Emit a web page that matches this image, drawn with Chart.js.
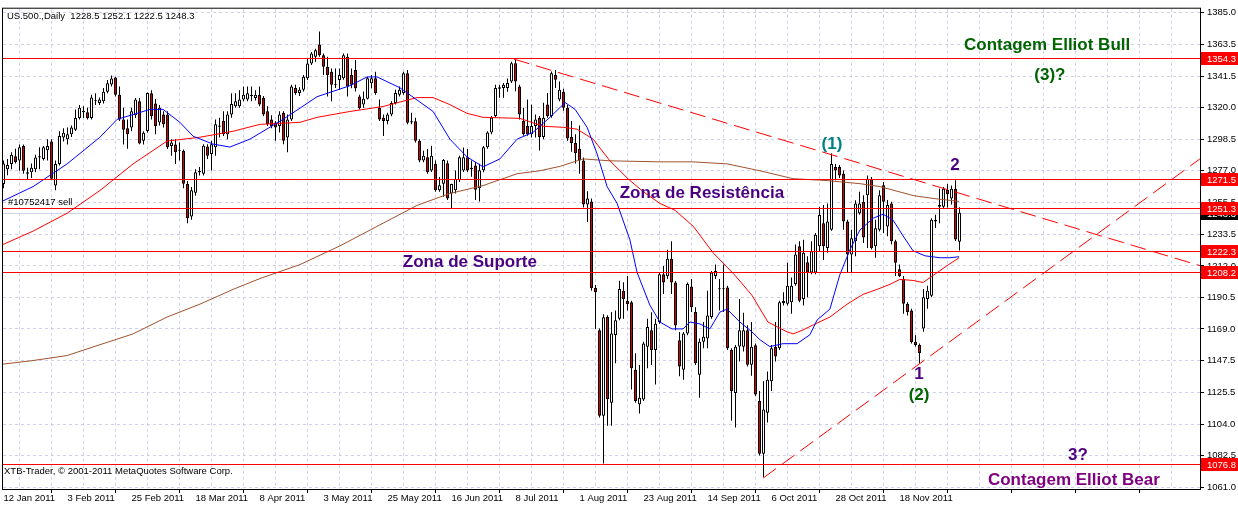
<!DOCTYPE html>
<html>
<head>
<meta charset="utf-8">
<script src="https://cdn.jsdelivr.net/npm/chart.js@4.4.1/dist/chart.umd.min.js"></script>
<style>
  html, body { margin: 0; padding: 0; background: #fff; }
  #grafico { display: block; }
</style>
</head>
<body>
<canvas id="grafico" width="1238" height="507"></canvas>
<script>
// US.500 diario, 12 Jan 2011 .. 9 Dec 2011
let simbolo = "US.500.,Daily";

let datas = ["12 Jan 2011", "3 Feb 2011", "25 Feb 2011", "18 Mar 2011", "8 Apr 2011", "3 May 2011",
    "25 May 2011", "16 Jun 2011", "8 Jul 2011", "1 Aug 2011", "23 Aug 2011", "14 Sep 2011",
    "6 Oct 2011", "28 Oct 2011", "18 Nov 2011"];

let precos = [1385.0, 1363.5, 1341.5, 1320.0, 1298.5, 1277.0, 1255.5, 1233.5, 1212.0, 1190.5,
    1169.0, 1147.5, 1125.5, 1104.0, 1082.5, 1061.0];

let abertura = [
    1268, 1278, 1281.7, 1287, 1284, 1294, 1276, 1276, 1278, 1286,
    1285, 1291, 1297, 1267, 1281.7, 1299.7, 1298.6, 1302, 1305, 1313,
    1317, 1317, 1313, 1325, 1323.3, 1324.5, 1331, 1336, 1340.7, 1329,
    1312, 1306, 1306.5, 1315, 1324.5, 1297.5, 1304.2, 1330, 1323, 1310,
    1315.5, 1315.5, 1294, 1295, 1290.7, 1290.7, 1268, 1245.7, 1262, 1277,
    1275, 1293.5, 1288.5, 1293, 1307, 1311, 1302, 1315.5, 1321, 1321,
    1325.6, 1325.6, 1328.5, 1326.7, 1329, 1326.7, 1317.7, 1312, 1310, 1307.6,
    1316.6, 1299.7, 1312.1, 1333.5, 1330.1, 1332.3, 1340.2, 1350.3, 1354.8, 1363.2,
    1355.9, 1348.1, 1344.7, 1336, 1339, 1340.2, 1354.8, 1342.5, 1345.8, 1327.8,
    1322.2, 1326.2, 1336.8, 1340.2, 1320, 1313.2, 1311, 1315.5, 1323.3, 1329,
    1330.1, 1343.6, 1310.9, 1310.9, 1297.5, 1284, 1286.2, 1277.2, 1281.7, 1263.7,
    1268.2, 1282.2, 1261.4, 1263.7, 1270.5, 1277.2, 1286.2, 1279, 1280.6, 1265,
    1277.3, 1293, 1303.1, 1314.4, 1333, 1333.5, 1333.5, 1338, 1350.4, 1334.6,
    1311, 1307.6, 1302, 1307.6, 1313.3, 1300, 1322.3, 1314.4, 1342.5, 1325.6,
    1331, 1320, 1300, 1296, 1292, 1284, 1254, 1256, 1197, 1168.1,
    1109.6, 1177.1, 1118.6, 1164.8, 1176, 1195.1, 1188.3, 1187.2, 1141.1, 1117.5,
    1120.8, 1156.8, 1168.1, 1154.6, 1173.7, 1206.3, 1205, 1216.9, 1200.7, 1161.3,
    1141.1, 1165.8, 1198, 1180.5, 1137.7, 1160.2, 1162.5, 1177.1, 1205.2, 1196.3,
    1196.5, 1197.3, 1154.6, 1125.3, 1157, 1156.8, 1168.1, 1144.5, 1157.9, 1119.7,
    1083.7, 1111.8, 1133.2, 1156.8, 1155.7, 1188, 1186.1, 1187.2, 1199.6, 1225.5,
    1189.5, 1214.6, 1207.5, 1207.5, 1225.5, 1241.2, 1224.3, 1236.7, 1279.5, 1279.5,
    1275, 1242.3, 1219.8, 1228.8, 1248, 1255.8, 1260.3, 1271.6, 1225.5, 1236.7,
    1267.1, 1238.9, 1254.7, 1228.8, 1209.7, 1203, 1186.1, 1181.6, 1160.2, 1158,
    1169.2, 1189.5, 1191.7, 1243.5, 1252.5, 1252.5, 1264, 1258, 1264.8, 1228.5
];

let maxima = [
    1284, 1285, 1289.6, 1292, 1295, 1295, 1279, 1282, 1288, 1293,
    1294, 1298.6, 1298.6, 1284, 1304, 1306, 1306.5, 1308, 1318.8, 1322,
    1321, 1320, 1329, 1330, 1327, 1333.5, 1339, 1342, 1341.3, 1334.6,
    1320, 1312, 1320, 1326.7, 1326.7, 1304, 1330.5, 1332, 1326, 1322,
    1317.7, 1317.7, 1298.6, 1298.6, 1296.3, 1291.5, 1270, 1266, 1278, 1279.5,
    1295.2, 1295.2, 1297.5, 1312, 1313.2, 1317.7, 1317.7, 1330, 1330, 1332,
    1334.6, 1334.6, 1334.6, 1332, 1334.6, 1328, 1321, 1315, 1311, 1317.7,
    1317.7, 1315.5, 1335.7, 1335.7, 1334, 1342.5, 1353.7, 1358.2, 1360.4, 1372.1,
    1357.1, 1354.8, 1346.9, 1346.9, 1346.9, 1357.1, 1357.1, 1346.9, 1352.6, 1328.9,
    1331.2, 1341.3, 1342.5, 1344.7, 1325.6, 1315.5, 1316.6, 1324.5, 1332.3, 1334.6,
    1344.7, 1345.8, 1316.6, 1313.2, 1298.6, 1290.7, 1291.8, 1294.1, 1284, 1272.7,
    1285.1, 1284, 1268.2, 1277.2, 1287.3, 1292.9, 1291.8, 1284, 1283, 1281.8,
    1294, 1304, 1314.4, 1335.8, 1335.8, 1337, 1340, 1351.5, 1353.8, 1335.8,
    1320, 1325.6, 1322.3, 1315.5, 1314.4, 1323.4, 1330.1, 1344.8, 1345.9, 1338,
    1333, 1322, 1311, 1302, 1308, 1286, 1263, 1258, 1199, 1169.3,
    1179, 1178.3, 1180.5, 1181.6, 1201.9, 1200.8, 1205.2, 1188.3, 1152.3, 1144.4,
    1160.2, 1175.9, 1180.4, 1175.9, 1207.5, 1211.9, 1223, 1228.8, 1201.8, 1166.9,
    1166.9, 1200.7, 1203, 1183.8, 1162.5, 1173.7, 1195, 1208.6, 1213, 1203,
    1213, 1198.5, 1155.7, 1158, 1189.5, 1180, 1171.5, 1173.7, 1159, 1126.5,
    1133.2, 1139.9, 1158, 1173.7, 1188.3, 1194, 1214.2, 1204.1, 1226.6, 1228.8,
    1229.9, 1218.7, 1228.8, 1234.5, 1252.5, 1253.6, 1254.7, 1288.9, 1281.7, 1281,
    1277.2, 1243.5, 1236.7, 1256.9, 1262.6, 1260.3, 1273.8, 1272.7, 1243.5, 1263.7,
    1269.3, 1257, 1255.8, 1229.9, 1213, 1205.2, 1187.2, 1182.7, 1164.7, 1159.1,
    1196.2, 1198.5, 1244.6, 1247, 1264.8, 1266, 1268, 1267, 1270.5, 1252.1
];

let minima = [
    1265, 1274, 1278, 1282, 1277, 1275, 1271, 1272, 1276, 1278,
    1284, 1284, 1270.5, 1263.7, 1280.6, 1297, 1295, 1300, 1304.2, 1312,
    1313, 1312, 1312, 1322, 1322, 1323, 1330, 1334.6, 1327.8, 1311,
    1295, 1292, 1304, 1313, 1295.2, 1295, 1303, 1312, 1302, 1308,
    1306.5, 1291.8, 1287.3, 1281.7, 1284, 1265, 1241.2, 1243.5, 1260, 1273.8,
    1273.8, 1285, 1277.2, 1287.3, 1299.7, 1300.8, 1298.6, 1313.2, 1320, 1320,
    1324.5, 1324.5, 1324.5, 1325, 1321, 1314.3, 1307.6, 1306, 1297.5, 1303.1,
    1295.2, 1289.6, 1311, 1329, 1328, 1331.2, 1339, 1349.2, 1351.5, 1354.8,
    1342.5, 1327.8, 1324.5, 1333.5, 1332.3, 1339.1, 1327.8, 1333.4, 1331.2, 1318.8,
    1320, 1325.6, 1333.4, 1329, 1311, 1300.8, 1308.7, 1314.3, 1322.2, 1327.8,
    1329, 1308.7, 1308.7, 1296.3, 1282.8, 1282.8, 1275, 1276.1, 1262.6, 1262.6,
    1259.2, 1257, 1251.3, 1261.4, 1269.3, 1276.1, 1276.1, 1273, 1257, 1256,
    1276, 1292, 1302, 1313.3, 1326.8, 1326.8, 1331, 1337, 1331.3, 1312.1,
    1300.9, 1300.9, 1299.8, 1299.8, 1290.8, 1298.6, 1313.3, 1313.3, 1333.5, 1324.5,
    1318, 1297.5, 1290, 1282, 1275, 1252, 1242, 1195, 1169, 1108.5,
    1077, 1102.9, 1102.9, 1145.6, 1174.9, 1176, 1181.6, 1127.6, 1118.6, 1111.2,
    1119.7, 1142.2, 1144.4, 1131, 1172.6, 1192.8, 1203, 1192.8, 1168.1, 1136.6,
    1134.3, 1164.7, 1180.5, 1144.4, 1121.9, 1155.7, 1155.7, 1175.9, 1203, 1181.6,
    1180.5, 1154.6, 1106.2, 1101.7, 1146.7, 1153.5, 1143.3, 1137, 1123, 1082.6,
    1067.9, 1105.1, 1126.5, 1146.7, 1154.6, 1185, 1184.9, 1179.3, 1198.5, 1187.2,
    1184.9, 1190.6, 1206.3, 1206.3, 1222, 1216, 1221, 1236, 1270.5, 1272,
    1236.7, 1207.5, 1207.5, 1218.7, 1246.9, 1227.7, 1224.3, 1223.2, 1217.6, 1235.6,
    1234.5, 1232.2, 1226.6, 1205.2, 1204.5, 1179.3, 1178.2, 1159.1, 1156.8, 1145.6,
    1167, 1182.7, 1190.6, 1238, 1241.2, 1251.3, 1252, 1254, 1229, 1222.5
];

let fechamento = [
    1282, 1281, 1288, 1283, 1293, 1277, 1275, 1279, 1286, 1287,
    1293, 1294, 1271.6, 1281.7, 1300.8, 1303, 1302, 1306.5, 1313, 1320,
    1318, 1313, 1327, 1324.5, 1325.6, 1331, 1336.8, 1340, 1329, 1312,
    1305, 1302, 1317.7, 1325.6, 1295.6, 1303, 1330.1, 1314.3, 1307.6, 1320,
    1308.7, 1293, 1296.3, 1289.6, 1291, 1268.2, 1244.6, 1263.7, 1276, 1276,
    1294.1, 1287.3, 1295.2, 1308.7, 1308, 1302, 1315.5, 1322.6, 1324.5, 1325.6,
    1329, 1330, 1328, 1329, 1322.2, 1315.5, 1308.7, 1307.6, 1306.5, 1315.5,
    1297.5, 1312.1, 1334.6, 1330.1, 1332.3, 1341.3, 1350.3, 1357.1, 1359.3, 1355.9,
    1348.1, 1342.5, 1335.7, 1335.5, 1342.5, 1355.9, 1334.6, 1335.7, 1333.4, 1319.9,
    1326.2, 1340.2, 1340.2, 1330.1, 1312.1, 1311, 1315.5, 1323.3, 1330.1, 1332.3,
    1343.6, 1309.8, 1310, 1297.5, 1284, 1287.3, 1276.1, 1287.3, 1263.7, 1267.1,
    1284.4, 1258.1, 1268, 1271.6, 1286.2, 1286.2, 1277.2, 1278, 1264, 1277.3,
    1293, 1303.1, 1313.3, 1333.5, 1334, 1335.8, 1337, 1350.4, 1338, 1315.5,
    1302, 1302, 1307.6, 1312.1, 1300, 1313.3, 1314.4, 1343.6, 1339.1, 1332.4,
    1320, 1299, 1296, 1289, 1284, 1254, 1258, 1197, 1194, 1109.6,
    1177, 1120.9, 1165.9, 1174.9, 1196.3, 1189.5, 1186, 1142.2, 1119.7, 1121.9,
    1159.1, 1170.3, 1154.6, 1172.6, 1206.3, 1200.7, 1216.9, 1200.7, 1171.4, 1143.3,
    1165.8, 1199.6, 1183.8, 1145.6, 1160.2, 1163.6, 1178.2, 1207.5, 1208.6, 1196,
    1196, 1155.7, 1126.5, 1156.8, 1168.1, 1168.1, 1144.5, 1156.8, 1124.2, 1083.7,
    1114, 1134.3, 1155.7, 1150.1, 1187.2, 1186.5, 1198.5, 1198.5, 1219.8, 1188.3,
    1221, 1207.5, 1222.1, 1233.3, 1246.8, 1225.5, 1242.3, 1281.7, 1277.2, 1273.8,
    1242.3, 1219.8, 1231, 1254.7, 1254.7, 1231.5, 1271.6, 1224.3, 1237.8, 1260.3,
    1255.8, 1253.6, 1228.8, 1214.2, 1205.2, 1186.1, 1180.5, 1160, 1158, 1152.3,
    1190.6, 1195.1, 1243.5, 1242.3, 1253.6, 1264.8, 1261, 1264.8, 1230, 1248.3
];

// medias moveis: [barra, valor]
let mediaAzul = [[-0.9, 1255.4], [7.4, 1266.2], [15.9, 1281.7], [24.1, 1299.9], [28.4, 1312.1], [36.6, 1318.9],
    [39.9, 1318.9], [44.1, 1310.1], [47.4, 1300.6], [52.4, 1295.2], [56.6, 1293.2], [61.6, 1298.6], [69.9, 1312.1],
    [78.4, 1327.6], [86.6, 1335.1], [90.9, 1341.1], [93.4, 1341.1], [99.1, 1333.7], [107.4, 1317.5], [111.6, 1298.6],
    [115.9, 1286.4], [119.9, 1279.7], [124.1, 1285.1], [128.4, 1298.6], [132.4, 1303.3], [136.6, 1313.5],
    [140.4, 1323.6], [142.9, 1318.9], [145.9, 1306.7], [148.4, 1288.5], [150.9, 1266.2], [153.4, 1254.7],
    [156.6, 1229.8], [158.4, 1207.5], [161.6, 1185.2], [164.1, 1173.7], [167.1, 1169.0], [169.9, 1169.0],
    [171.6, 1173.7], [174.1, 1172.4], [176.6, 1169.0], [179.1, 1180.5], [180.9, 1182.5], [184.1, 1173.7],
    [187.1, 1167.0], [189.1, 1161.6], [191.6, 1156.9], [194.9, 1158.9], [198.4, 1158.9], [201.6, 1165.0],
    [203.4, 1175.1], [206.6, 1182.5], [209.1, 1206.1], [211.6, 1223.0], [214.1, 1236.5], [217.4, 1244.6],
    [219.9, 1247.3], [222.4, 1243.3], [224.9, 1232.5], [227.4, 1222.3], [230.4, 1218.9], [234.1, 1217.6],
    [236.6, 1217.6], [238.9, 1218.3]];

let mediaVermelha = [[-0.9, 1225.7], [7.4, 1235.8], [15.9, 1248.0], [24.1, 1263.5], [32.4, 1281.7], [40.9, 1297.3],
    [49.1, 1299.9], [57.4, 1304.0], [64.1, 1308.7], [74.1, 1310.1], [78.4, 1313.5], [86.6, 1317.5], [94.9, 1320.9],
    [103.4, 1327.0], [107.4, 1327.0], [111.6, 1322.2], [115.9, 1316.2], [119.9, 1313.5], [129.1, 1312.8],
    [134.9, 1307.4], [139.9, 1306.7], [143.4, 1305.4], [147.4, 1298.6], [151.6, 1283.8], [156.1, 1271.6],
    [159.9, 1262.8], [164.1, 1254.7], [167.9, 1250.0], [172.4, 1239.2], [177.4, 1221.0], [182.9, 1205.5],
    [187.1, 1192.0], [191.1, 1173.7], [195.9, 1167.0], [197.4, 1165.6], [199.9, 1168.3], [202.4, 1171.7],
    [206.6, 1177.1], [210.9, 1185.9], [214.9, 1192.6], [218.4, 1196.0], [221.6, 1199.4], [224.1, 1202.8],
    [227.4, 1202.1], [229.9, 1200.7], [232.4, 1205.5], [235.9, 1212.2], [238.9, 1217.6]];

let mediaMarrom = [[-0.9, 1144.7], [7.4, 1147.4], [15.9, 1150.8], [24.1, 1158.2], [32.4, 1165.6], [40.9, 1177.1],
    [49.1, 1185.9], [57.4, 1196.0], [64.1, 1203.4], [74.1, 1212.9], [84.1, 1225.7], [94.9, 1241.2], [103.4, 1253.4],
    [111.6, 1261.5], [119.9, 1266.9], [128.4, 1275.0], [134.1, 1277.0], [139.1, 1280.0], [144.9, 1285.1],
    [151.6, 1283.8], [164.1, 1283.1], [172.4, 1283.1], [180.9, 1281.7], [189.1, 1277.0], [197.4, 1271.6],
    [205.9, 1270.3], [214.1, 1268.2], [219.1, 1266.2], [227.4, 1260.1], [232.4, 1258.1], [238.9, 1256.1]];

// linhas horizontais (suporte / resistencia) e linhas de tendencia
let niveis = [1354.3, 1271.5, 1251.3, 1222.3, 1208.2, 1076.8];
let precoAtual = 1248.3;
let tendenciaBaixa = [[127.6, 1353.3], [299.1, 1212.2]];
let tendenciaAlta = [[189.9, 1067.1], [299.1, 1285.1]];

// textos do grafico: [texto, barra, preco, cor]
let anotacoes = [
    ["Contagem Elliot Bull", 260.9, 1362.7, "#006400"],
    ["(3)?", 261.6, 1342.5, "#006400"],
    ["Zona de Resistência", 174.6, 1261.5, "#4b0082"],
    ["Zona de Suporte", 116.6, 1214.2, "#4b0082"],
    ["(1)", 207.1, 1295.2, "#008080"],
    ["2", 237.9, 1280.4, "#4b0082"],
    ["1", 228.9, 1138.0, "#4b0082"],
    ["(2)", 228.9, 1123.8, "#006400"],
    ["3?", 268.6, 1082.6, "#4b0082"],
    ["Contagem Elliot Bear", 267.6, 1065.7, "#800080"]
];

let fonteBase = '"Liberation Sans", Arial, sans-serif';
let corGrade = "#cfcfee";
let corBaixa = "#d40000";

let barras = abertura.map((_, i) => i);
let pavios = barras.map(i => ({ x: i, y: [minima[i], maxima[i]] }));
let corpos = barras.map(i => ({ x: i, y: [abertura[i], fechamento[i]] }));
let linhaGrade = [];
for (let b = 0; b <= 296; b += 8) linhaGrade.push(b);

function pontos(lista) {
    return lista.map(p => ({ x: p[0], y: p[1] }));
}

let xMin = -0.125, xMax = 299.125;

function linhaHorizontal(chart, v, cor) {
    let ctx = chart.ctx, area = chart.chartArea;
    let y = Math.round(chart.scales.y.getPixelForValue(v)) + 0.5;
    ctx.save();
    ctx.strokeStyle = cor;
    ctx.lineWidth = 1;
    ctx.beginPath();
    ctx.moveTo(area.left, y);
    ctx.lineTo(area.right, y);
    ctx.stroke();
    ctx.restore();
}

let desenhoMT4 = {
    id: "desenhoMT4",
    beforeDatasetsDraw(chart) {
        linhaHorizontal(chart, precoAtual, "#d2d2e4");
    },
    afterDatasetsDraw(chart) {
        niveis.forEach(v => linhaHorizontal(chart, v, "#ff0000"));
    },
    afterDraw(chart) {
        let ctx = chart.ctx;
        let xs = chart.scales.x, ys = chart.scales.y;
        let area = chart.chartArea;
        ctx.save();

        // moldura
        ctx.strokeStyle = "#000";
        ctx.lineWidth = 1;
        ctx.strokeRect(area.left - 0.5, area.top - 0.5, area.right - area.left + 1, area.bottom - area.top + 1);

        // anotacoes
        ctx.font = "bold 17px " + fonteBase;
        ctx.textAlign = "center";
        ctx.textBaseline = "middle";
        anotacoes.forEach(a => {
            ctx.fillStyle = a[3];
            ctx.fillText(a[0], xs.getPixelForValue(a[1]), ys.getPixelForValue(a[2]));
        });

        // textos pequenos
        ctx.font = "9.5px " + fonteBase;
        ctx.textAlign = "left";
        ctx.fillStyle = "#000";
        let n = abertura.length - 1;
        ctx.fillText(simbolo + "  " + abertura[n].toFixed(1) + " " + maxima[n].toFixed(1) + " " +
            minima[n].toFixed(1) + " " + fechamento[n].toFixed(1), area.left + 4, area.top + 8);
        ctx.textBaseline = "bottom";
        ctx.fillText("#10752417 sell", area.left + 5, Math.round(ys.getPixelForValue(niveis[2])) - 1);
        ctx.textBaseline = "middle";
        ctx.fillText("XTB-Trader, © 2001-2011 MetaQuotes Software Corp.", area.left + 1, area.bottom - 18);

        // etiquetas de preco no eixo direito
        let etiqueta = (v, cor) => {
            let y = Math.round(ys.getPixelForValue(v));
            ctx.fillStyle = cor;
            ctx.fillRect(area.right + 1, y - 6, 40, 13);
            ctx.fillStyle = "#fff";
            ctx.fillText(v.toFixed(1), area.right + 7, y + 1);
        };
        etiqueta(precoAtual, "#000");
        niveis.forEach(v => etiqueta(v, "#ff0000"));
        ctx.restore();
    }
};

let grafico = new Chart(document.getElementById("grafico").getContext("2d"), {
    type: "bar",
    data: {
        datasets: [
            { type: "line", data: pontos(tendenciaBaixa), borderColor: "#ff0000", borderWidth: 1,
              borderDash: [16, 7], pointRadius: 0, order: 0 },
            { type: "line", data: pontos(tendenciaAlta), borderColor: "#ff0000", borderWidth: 1,
              borderDash: [16, 7], pointRadius: 0, order: 0 },
            { type: "line", data: pontos(mediaAzul), borderColor: "#0000ff", borderWidth: 1, pointRadius: 0, order: 2 },
            { type: "line", data: pontos(mediaVermelha), borderColor: "#ff0000", borderWidth: 1, pointRadius: 0, order: 2 },
            { type: "line", data: pontos(mediaMarrom), borderColor: "#a0522d", borderWidth: 1, pointRadius: 0, order: 2 },
            { data: corpos, barThickness: 3, borderWidth: 1, borderColor: "#000", borderSkipped: false,
              inflateAmount: 0, grouped: false, minBarLength: 1, order: 3,
              backgroundColor: c => fechamento[c.dataIndex] >= abertura[c.dataIndex] ? "#ffffff" : corBaixa },
            { data: pavios, barThickness: 1, borderWidth: 0, backgroundColor: "#000",
              inflateAmount: 0, grouped: false, order: 4 }
        ]
    },
    options: {
        responsive: false,
        animation: false,
        events: [],
        layout: { padding: { left: 3, top: 3, right: 0, bottom: 0 } },
        plugins: { legend: { display: false }, tooltip: { enabled: false } },
        scales: {
            x: {
                type: "linear", min: xMin, max: xMax, offset: false,
                afterBuildTicks: s => { s.ticks = linhaGrade.map(v => ({ value: v })); },
                afterFit: s => { s.height = 18; },
                ticks: {
                    autoSkip: false, maxRotation: 0, minRotation: 0, align: "start", padding: 0,
                    color: "#000", font: { family: fonteBase, size: 9.5 },
                    callback: v => (v % 16 === 0 && v / 16 < datas.length) ? datas[v / 16] : ""
                },
                grid: {
                    color: c => (c.tick && c.tick.value === 0) ? "rgba(0,0,0,0)" : corGrade,
                    lineWidth: 1, tickLength: 4,
                    tickColor: c => (c.tick && c.tick.value % 16 === 0) ? "#000" : "rgba(0,0,0,0)"
                },
                border: { display: true, color: "#000", width: 1, dash: [3, 3] }
            },
            y: {
                type: "linear", position: "right", min: 1059.65, max: 1387.7,
                afterBuildTicks: s => { s.ticks = precos.map(v => ({ value: v })); },
                afterFit: s => { s.width = 38; },
                ticks: {
                    padding: 3, crossAlign: "near", color: "#000",
                    font: { family: fonteBase, size: 9.5 },
                    callback: v => v.toFixed(1)
                },
                grid: { color: corGrade, lineWidth: 1, tickLength: 4, tickColor: "#000" },
                border: { display: true, color: "#000", width: 1, dash: [3, 3] }
            }
        }
    },
    plugins: [desenhoMT4]
});
</script>
</body>
</html>
